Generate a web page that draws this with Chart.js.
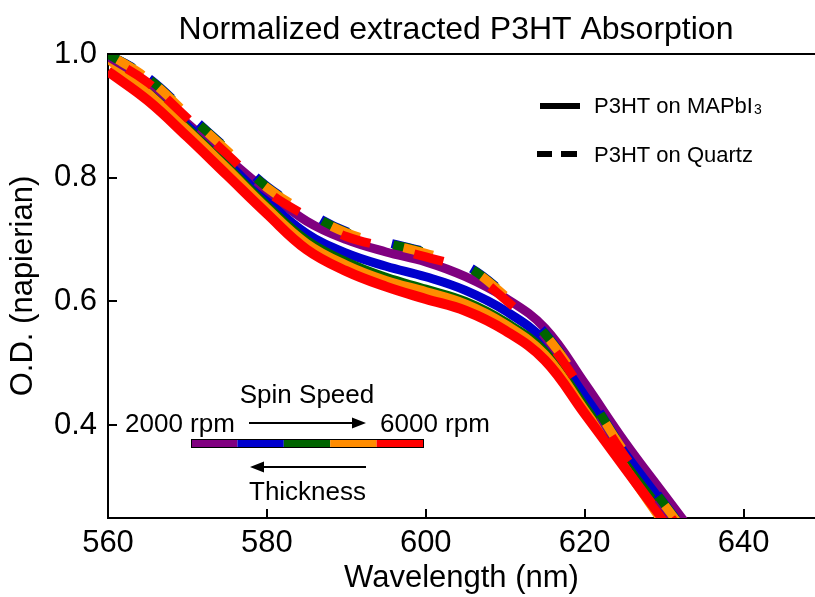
<!DOCTYPE html>
<html>
<head>
<meta charset="utf-8">
<script src="https://cdn.jsdelivr.net/npm/chart.js@4.4.0/dist/chart.umd.min.js"></script>
<style>
  html, body { margin: 0; padding: 0; background: #fff; }
  #wrap { width: 815px; height: 597px; }
</style>
</head>
<body>
<div id="wrap"><canvas id="absChart" width="815" height="597"></canvas></div>
<script>
// wavelength grid (nm)
const wavelengths = [560, 565, 570, 575, 580, 585, 590, 595, 600, 605, 610, 615, 620, 625, 630, 635];

// P3HT on MAPbI3 (solid), one per spin speed 2000 -> 6000 rpm
const mapPurple = [0.997, 0.944, 0.888, 0.832, 0.778, 0.730, 0.700, 0.680, 0.664, 0.640, 0.606, 0.557, 0.468, 0.374, 0.288, 0.203];
const mapBlue   = [0.996, 0.942, 0.884, 0.824, 0.763, 0.710, 0.678, 0.657, 0.640, 0.618, 0.585, 0.536, 0.448, 0.356, 0.271, 0.187];
const mapGreen  = [0.995, 0.940, 0.880, 0.818, 0.755, 0.699, 0.664, 0.639, 0.620, 0.600, 0.567, 0.519, 0.431, 0.340, 0.256, 0.172];
const mapOrange = [0.992, 0.937, 0.877, 0.815, 0.751, 0.694, 0.659, 0.634, 0.616, 0.596, 0.563, 0.514, 0.425, 0.333, 0.240, 0.152];
const mapRed    = [0.972, 0.925, 0.866, 0.804, 0.742, 0.684, 0.649, 0.624, 0.604, 0.585, 0.553, 0.505, 0.419, 0.332, 0.246, 0.162];

// P3HT on Quartz (dashed)
const qzPurple = [0.996, 0.956, 0.898, 0.840, 0.780, 0.740, 0.707, 0.690, 0.674, 0.653, 0.605, 0.543, 0.453, 0.353, 0.268, 0.183];
const qzBlue   = [1.000, 0.962, 0.904, 0.846, 0.786, 0.746, 0.713, 0.696, 0.680, 0.659, 0.611, 0.549, 0.459, 0.359, 0.274, 0.189];
const qzGreen  = [1.000, 0.961, 0.903, 0.845, 0.785, 0.745, 0.712, 0.695, 0.679, 0.658, 0.610, 0.548, 0.458, 0.358, 0.273, 0.188];
const qzOrange = [1.000, 0.960, 0.902, 0.844, 0.784, 0.744, 0.711, 0.694, 0.678, 0.657, 0.609, 0.547, 0.457, 0.357, 0.272, 0.187];
const qzRed    = [0.994, 0.954, 0.896, 0.838, 0.778, 0.738, 0.705, 0.688, 0.672, 0.651, 0.603, 0.541, 0.451, 0.351, 0.266, 0.181];

const xTicks = [560, 580, 600, 620, 640];
const yTicks = [0.4, 0.6, 0.8, 1.0];

const speedColors = ['#800080', '#0000cd', '#006400', '#ff8c00', '#ff0000'];
const FONT = '"Liberation Sans", Arial, Helvetica, sans-serif';

// dash pattern of the quartz curves (on/off lengths along the path)
const quartzDash = [30, 20, 30, 37, 30, 48, 30, 48, 30, 45, 30, 54, 30, 63, 30, 71, 30, 71, 30, 200];

const toPts = arr => wavelengths.map((w, i) => ({ x: w, y: arr[i] }));

const solidSets = [mapPurple, mapBlue, mapGreen, mapOrange, mapRed];
const dashSets = [qzPurple, qzBlue, qzGreen, qzOrange, qzRed];
const dashOffsets = [0, 2, 0, -11, -22];

const datasets = [];
solidSets.forEach((arr, i) => {
  datasets.push({
    label: 'MAPbI3 ' + i,
    data: toPts(arr),
    borderColor: speedColors[i],
    borderWidth: i === 4 ? 10 : 9,
    pointRadius: 0,
    tension: 0.4,
    clip: 0,
    order: 9 - i
  });
});
dashSets.forEach((arr, i) => {
  datasets.push({
    label: 'Quartz ' + i,
    data: toPts(arr),
    borderColor: speedColors[i],
    borderWidth: 9,
    borderDash: quartzDash,
    borderDashOffset: dashOffsets[i],
    borderCapStyle: 'butt',
    pointRadius: 0,
    tension: 0.4,
    clip: 0,
    order: 4 - i
  });
});

// frame top line, inward ticks, title, legend and spin speed inset
const decorPlugin = {
  id: 'decor',
  afterDraw(chart) {
    const ctx = chart.ctx;
    const a = chart.chartArea;
    const xs = chart.scales.x, ys = chart.scales.y;
    ctx.save();
    ctx.strokeStyle = '#000';
    ctx.lineWidth = 2;
    ctx.beginPath();
    ctx.moveTo(a.left - 1, a.top);
    ctx.lineTo(a.right, a.top);
    ctx.stroke();

    // inward ticks
    ctx.beginPath();
    xTicks.forEach(v => {
      const px = Math.round(xs.getPixelForValue(v));
      ctx.moveTo(px, a.bottom);
      ctx.lineTo(px, a.bottom - 9);
    });
    yTicks.forEach(v => {
      const py = Math.round(ys.getPixelForValue(v));
      ctx.moveTo(a.left, py);
      ctx.lineTo(a.left + 9, py);
    });
    ctx.stroke();

    // title
    ctx.fillStyle = '#000';
    ctx.font = '32px ' + FONT;
    ctx.textAlign = 'center';
    ctx.textBaseline = 'alphabetic';
    ctx.fillText('Normalized extracted P3HT Absorption', 456, 39);

    // legend
    ctx.textAlign = 'left';
    ctx.lineWidth = 6;
    ctx.beginPath();
    ctx.moveTo(540, 106);
    ctx.lineTo(580, 106);
    ctx.stroke();
    ctx.beginPath();
    ctx.moveTo(537, 154); ctx.lineTo(552, 154);
    ctx.moveTo(561, 154); ctx.lineTo(577, 154);
    ctx.stroke();
    ctx.font = '22px ' + FONT;
    ctx.fillText('P3HT on MAPbI', 594, 113);
    const w = ctx.measureText('P3HT on MAPbI').width;
    ctx.font = '14px ' + FONT;
    ctx.fillText('3', 594 + w + 1, 114);
    ctx.font = '22px ' + FONT;
    ctx.fillText('P3HT on Quartz', 594, 162);

    // spin speed inset
    ctx.font = '26px ' + FONT;
    ctx.textAlign = 'center';
    ctx.fillText('Spin Speed', 307, 403);
    ctx.textAlign = 'left';
    ctx.fillText('2000 rpm', 125, 432);
    ctx.fillText('6000 rpm', 380, 432);
    ctx.fillText('Thickness', 249, 500);

    ctx.lineWidth = 2;
    ctx.beginPath();
    ctx.moveTo(249, 423); ctx.lineTo(356, 423);
    ctx.moveTo(262, 467); ctx.lineTo(366, 467);
    ctx.stroke();
    ctx.beginPath();
    ctx.moveTo(366, 423); ctx.lineTo(352, 417.5); ctx.lineTo(352, 428.5); ctx.closePath();
    ctx.moveTo(250, 467); ctx.lineTo(264, 461.5); ctx.lineTo(264, 472.5); ctx.closePath();
    ctx.fill();

    const barX = 191, barY = 439, barW = 232, barH = 8;
    speedColors.forEach((c, i) => {
      ctx.fillStyle = c;
      ctx.fillRect(barX + i * barW / 5, barY, barW / 5, barH);
    });
    ctx.strokeStyle = '#000';
    ctx.lineWidth = 1;
    ctx.strokeRect(barX + 0.5, barY + 0.5, barW, barH);
    ctx.restore();
  }
};

new Chart(document.getElementById('absChart'), {
  type: 'line',
  data: { datasets },
  options: {
    responsive: false,
    animation: false,
    devicePixelRatio: 1,
    layout: { padding: { top: 54, right: 0, bottom: 0, left: 0 } },
    plugins: { legend: { display: false }, tooltip: { enabled: false }, title: { display: false } },
    scales: {
      x: {
        type: 'linear',
        min: 560,
        max: 649,
        afterBuildTicks: s => { s.ticks = xTicks.map(v => ({ value: v })); },
        afterFit: s => { s.height = 79; },
        grid: { display: false, drawTicks: false },
        border: { display: true, color: '#000', width: 2 },
        ticks: { color: '#000', padding: 7, maxRotation: 0, font: { family: FONT, size: 31 }, callback: v => String(v) },
        title: { display: true, text: 'Wavelength (nm)', color: '#000', padding: { top: 0, bottom: 0 }, font: { family: FONT, size: 31 } }
      },
      y: {
        type: 'linear',
        min: 0.25,
        max: 1.0,
        afterBuildTicks: s => { s.ticks = yTicks.map(v => ({ value: v })); },
        afterFit: s => { s.width = 108; },
        grid: { display: false, drawTicks: false },
        border: { display: true, color: '#000', width: 2 },
        ticks: { color: '#000', padding: 11, font: { family: FONT, size: 31 }, callback: v => v.toFixed(1) },
        title: { display: true, text: 'O.D. (napierian)', color: '#000', padding: { top: 5, bottom: 0 }, font: { family: FONT, size: 31 } }
      }
    }
  },
  plugins: [decorPlugin]
});
</script>
</body>
</html>
